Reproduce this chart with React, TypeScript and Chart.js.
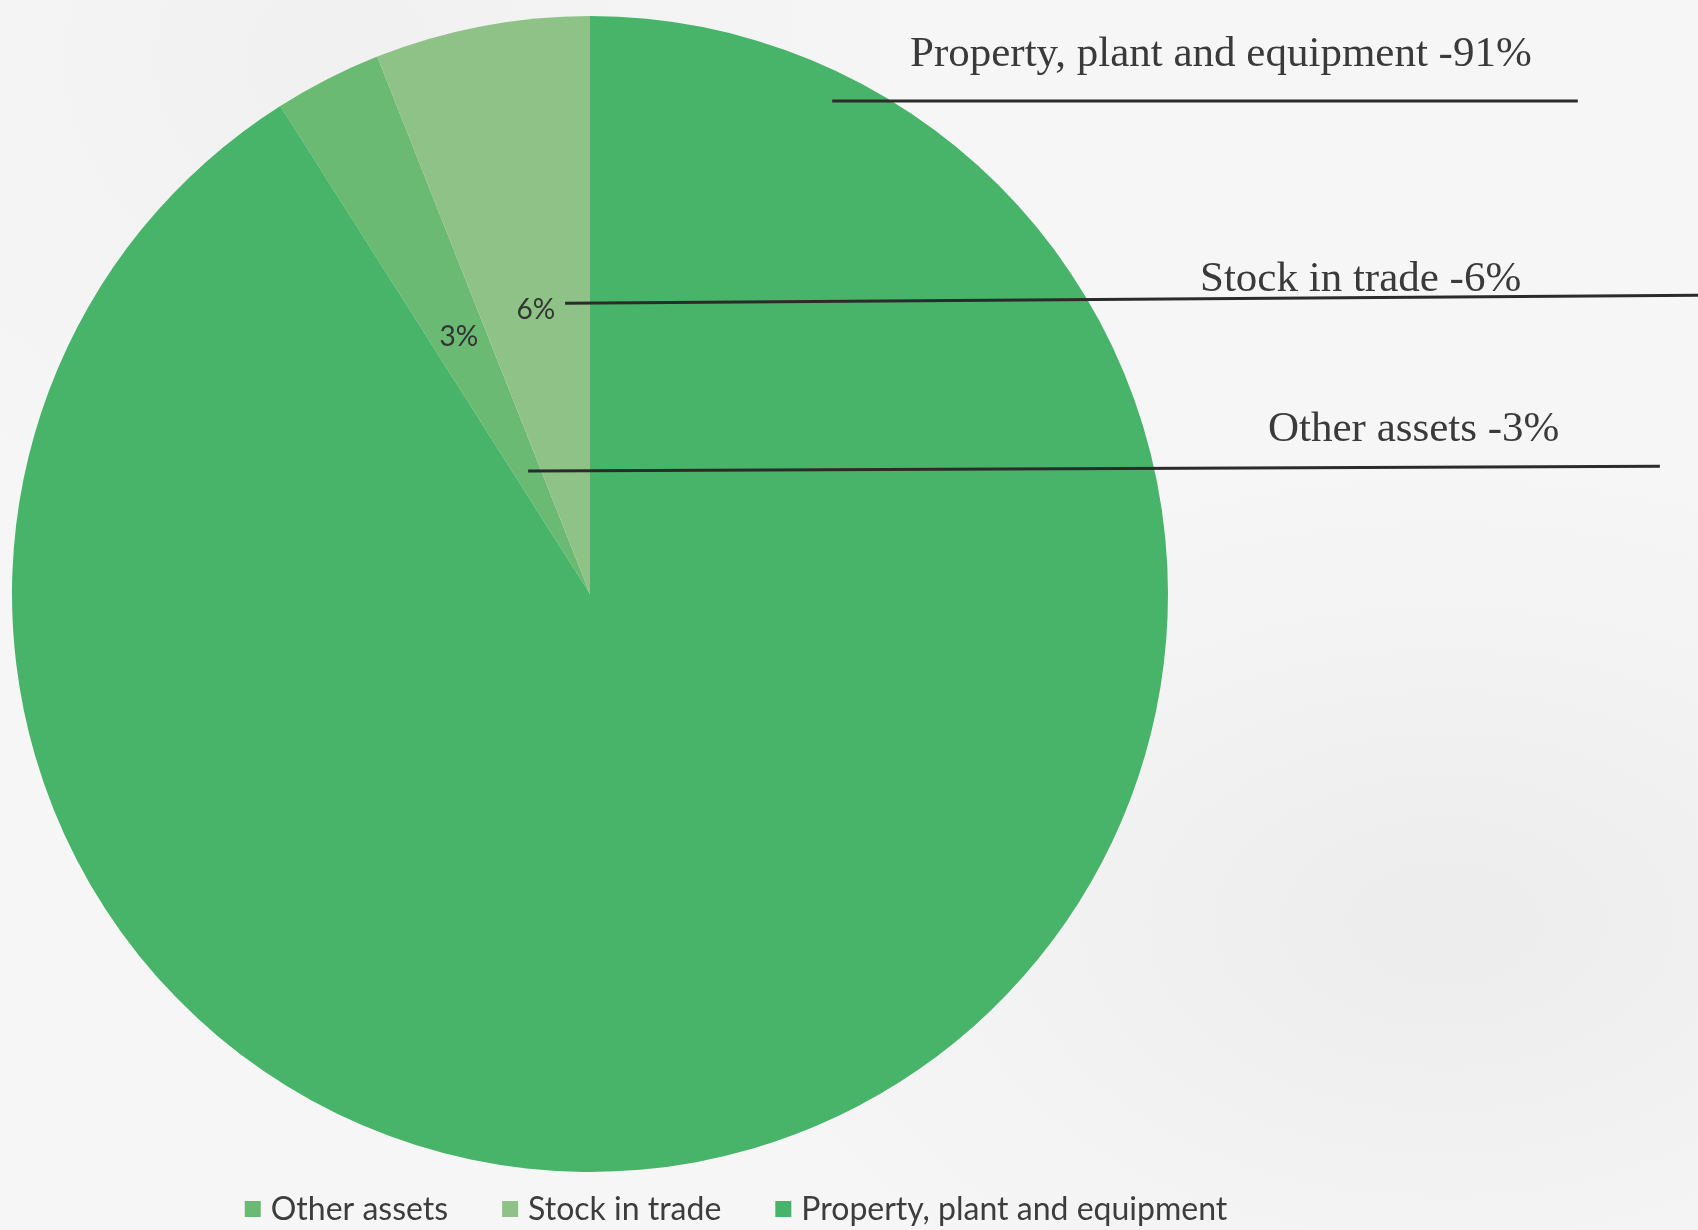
import React, { useEffect, useRef } from "react";
import { Chart, registerables } from "chart.js";

Chart.register(...registerables);

// ---- data ----
const categories = ["Other assets", "Stock in trade", "Property, plant and equipment"];
const shares = [3, 6, 91];
const sliceColors = ["#6aba73", "#8ec286", "#48b46a"];
const sliceLabels = ["3%", "6%", ""];
const calloutTexts = ["Property, plant and equipment -91%", "Stock in trade -6%", "Other assets -3%"];

const W = 1698;
const H = 1230;

const annotationPlugin = {
  id: "annotations",
  afterDatasetsDraw(chart: any) {
    const ctx: CanvasRenderingContext2D = chart.ctx;
    const meta = chart.getDatasetMeta(0);
    const arcs = meta.data;
    if (!arcs.length) return;
    const cx = arcs[0].x;
    const cy = arcs[0].y;
    const R = arcs[0].outerRadius;

    // in-slice percent labels
    ctx.save();
    ctx.font = "28px Lato, 'Open Sans', sans-serif";
    ctx.fillStyle = "#333333";
    ctx.textAlign = "center";
    ctx.textBaseline = "middle";
    arcs.forEach((arc: any, i: number) => {
      if (!sliceLabels[i]) return;
      const p = arc.tooltipPosition();
      ctx.fillText(sliceLabels[i], p.x, p.y);
    });
    ctx.restore();

    // callout lines (relative to pie centre, in radius units)
    const lines = [
      { x1: 0.419, y1: -0.853, x2: 1.709, y2: -0.853, tx: 910, ty: 66 },
      { x1: -0.043, y1: -0.503, x2: 1.917, y2: -0.517, tx: 1200, ty: 291 },
      { x1: -0.107, y1: -0.213, x2: 1.851, y2: -0.221, tx: 1268, ty: 441 },
    ];
    ctx.save();
    ctx.strokeStyle = "#2b2b2b";
    ctx.lineWidth = 3;
    lines.forEach((l) => {
      ctx.beginPath();
      ctx.moveTo(cx + l.x1 * R, cy + l.y1 * R);
      ctx.lineTo(cx + l.x2 * R, cy + l.y2 * R);
      ctx.stroke();
    });
    ctx.font = "43px 'Liberation Serif', 'DejaVu Serif', serif";
    ctx.fillStyle = "#3a3a3a";
    ctx.textAlign = "left";
    ctx.textBaseline = "alphabetic";
    lines.forEach((l, i) => {
      ctx.fillText(calloutTexts[i], l.tx, l.ty);
    });
    ctx.restore();

    // custom legend
    ctx.save();
    ctx.font = "32px Lato, 'Open Sans', sans-serif";
    ctx.textBaseline = "middle";
    ctx.textAlign = "left";
    const sw = 16;
    const gap = 10;
    const itemGap = 54;
    const widths = categories.map((c) => sw + gap + ctx.measureText(c).width);
    const total = widths.reduce((a, b) => a + b, 0) + itemGap * (categories.length - 1);
    let x = 736 - total / 2;
    const y = 1209;
    categories.forEach((c, i) => {
      ctx.fillStyle = sliceColors[i];
      ctx.fillRect(x, y - sw / 2, sw, sw);
      ctx.fillStyle = "#3d3d3d";
      ctx.fillText(c, x + sw + gap, y + 1);
      x += widths[i] + itemGap;
    });
    ctx.restore();
  },
};

export default function App() {
  const ref = useRef<HTMLCanvasElement | null>(null);

  useEffect(() => {
    document.body.style.margin = "0";
    if (!ref.current) return;
    const chart = new Chart(ref.current, {
      type: "pie",
      data: {
        labels: categories,
        datasets: [
          {
            data: shares,
            backgroundColor: sliceColors,
            borderWidth: 0,
          },
        ],
      },
      options: {
        responsive: false,
        animation: false,
        rotation: -32.4,
        layout: { padding: { top: 16, bottom: 58, left: 12, right: 530 } },
        plugins: {
          legend: { display: false },
          tooltip: { enabled: false },
        },
      },
      plugins: [annotationPlugin],
    });
    return () => chart.destroy();
  }, []);

  return (
    <div
      style={{
        width: W,
        height: H,
        position: "relative",
        overflow: "hidden",
        background:
          "radial-gradient(ellipse at 85% 75%, rgba(225,225,225,0.45), rgba(246,246,246,0) 35%), radial-gradient(ellipse at 20% 5%, rgba(232,232,232,0.4), rgba(246,246,246,0) 30%), #f6f6f6",
      }}
    >
      <canvas ref={ref} width={W} height={H} style={{ display: "block" }} />
    </div>
  );
}
